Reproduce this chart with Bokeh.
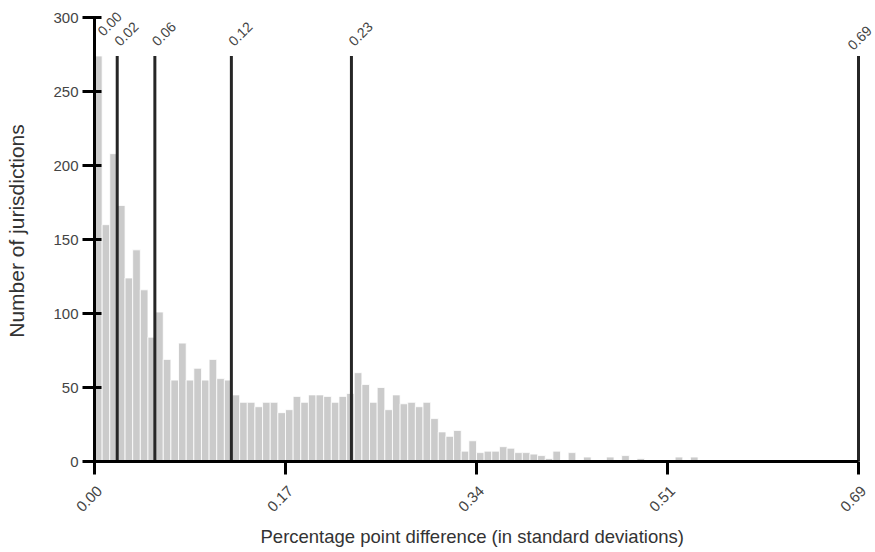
import math
from bokeh.plotting import figure
from bokeh.models import (ColumnDataSource, FixedTicker, LabelSet, LinearAxis, Range1d,
                          CustomLabelingPolicy, Title)
from bokeh.core.properties import value
from bokeh.embed import file_html
from bokeh.resources import INLINE

# ---- data ----
x_max = 0.686
counts = [274, 160, 208, 173, 124, 143, 116, 84, 101, 69,
          55, 80, 55, 63, 55, 69, 56, 55, 45, 40,
          40, 37, 40, 40, 33, 35, 44, 40, 45, 45,
          44, 40, 44, 46, 60, 52, 40, 50, 35, 45,
          39, 40, 37, 40, 29, 20, 17, 21, 7, 14,
          6, 7, 7, 10, 9, 6, 6, 5, 4, 2,
          7, 1, 6, 1, 3, 1, 0, 3, 1, 4,
          1, 2, 1, 0, 0, 0, 3, 1, 3, 1,
          1, 0, 0, 0, 0, 0, 0, 0, 0, 0,
          0, 0, 1, 0, 0, 0, 0, 0, 0, 0]
line_values = [0.0, 0.0204, 0.0542, 0.1229, 0.2307, 0.686]
line_labels = ["0.00", "0.02", "0.06", "0.12", "0.23", "0.69"]
x_tick_labels = ["0.00", "0.17", "0.34", "0.51", "0.69"]
y_ticks = [0, 50, 100, 150, 200, 250, 300]
y_max = 300
x_title = "Percentage point difference (in standard deviations)"
y_title = "Number of jurisdictions"

FONT = "Liberation Sans"
TXT = "#444444"

# ---- layout (pixels) ----
W, H = 875, 552
B_LEFT, B_BOTTOM = 94, 91
AX_W, AX_H = 764, 444          # length of the drawn axes
FRAME_W, FRAME_H = W - B_LEFT, H - B_BOTTOM
x_end = x_max * FRAME_W / AX_W
y_end = y_max * FRAME_H / AX_H
px_x = x_max / AX_W            # data units per pixel along x
LABEL_SHIFT = 5                # px the x tick labels sit right of their ticks

n = len(counts)
bw = x_max / n
bars = ColumnDataSource(dict(left=[i * bw for i in range(n)],
                             right=[(i + 1) * bw for i in range(n)],
                             top=counts, bottom=[0] * n))

p = figure(width=W, height=H, x_range=Range1d(0, x_end), y_range=Range1d(0, y_end),
           output_backend="svg", toolbar_location=None, x_axis_location=None,
           min_border_left=B_LEFT, min_border_right=0, min_border_top=0,
           min_border_bottom=B_BOTTOM)
p.outline_line_color = None
p.grid.visible = False

p.quad(left="left", right="right", top="top", bottom="bottom", source=bars,
       fill_color="#cbcbcb", line_color="white", line_width=0.8)

top = max(counts)
lines = ColumnDataSource(dict(x=line_values, y0=[0] * len(line_values),
                              y1=[top] * len(line_values), label=line_labels))
p.segment(x0="x", y0="y0", x1="x", y1="y1", source=lines,
          line_color="#262626", line_width=3)

# label offsets: a label crowded by its right neighbour is lifted,
# the label at the end of the axis is pulled back inside
xo, yo = [], []
for i, v in enumerate(line_values):
    crowded = i + 1 < len(line_values) and line_values[i + 1] - v < 0.025
    if crowded:
        xo.append(9); yo.append(19)
    elif v >= x_max:
        xo.append(-5); yo.append(5)
    else:
        xo.append(3); yo.append(9)
lines.data["xo"] = xo
lines.data["yo"] = yo
p.add_layout(LabelSet(x="x", y="y1", text="label", source=lines,
                      x_offset="xo", y_offset="yo", angle=math.pi / 4,
                      text_font=value(FONT), text_font_size="14px", text_color=TXT,
                      text_align="left", text_baseline="alphabetic"))

xt = [x_max * k / 4 for k in range(5)]

# x axis: line and ticks only
xa = LinearAxis(ticker=FixedTicker(ticks=xt), bounds=(0, x_max))
xa.axis_line_width = 3
xa.axis_line_color = "black"
xa.major_tick_line_width = 3
xa.major_tick_line_color = "black"
xa.major_tick_out = 13
xa.major_tick_in = 0
xa.minor_tick_line_color = None
xa.major_label_standoff = 0
xa.major_label_policy = CustomLabelingPolicy(
    code="for (const i of Array.from(indices)) indices.unset(i); return indices")
p.add_layout(xa, "below")

# x axis: rotated labels, set slightly to the right of their ticks
p.extra_x_ranges = {"lab": Range1d(-LABEL_SHIFT * px_x, x_end - LABEL_SHIFT * px_x)}
xl = LinearAxis(x_range_name="lab", ticker=FixedTicker(ticks=xt))
xl.major_label_overrides = {t: l for t, l in zip(xt, x_tick_labels)}
xl.major_label_orientation = math.pi / 4
xl.axis_line_color = None
xl.major_tick_line_color = None
xl.minor_tick_line_color = None
xl.major_tick_out = 0
xl.major_tick_in = 0
xl.major_label_standoff = 3
xl.major_label_text_font = FONT
xl.major_label_text_font_size = "15px"
xl.major_label_text_color = TXT
p.add_layout(xl, "below")

# x title, centred under the drawn axis rather than the whole frame
p.add_layout(Title(text=x_title, align="left", offset=166, vertical_align="bottom",
                   standoff=8, text_font=FONT, text_font_size="18.5px",
                   text_font_style="normal", text_color="#333333"), "below")

ya = p.yaxis[0]
ya.ticker = FixedTicker(ticks=y_ticks)
ya.bounds = (0, y_max)
ya.minor_tick_line_color = None
ya.axis_line_width = 3
ya.axis_line_color = "black"
ya.major_tick_line_width = 3
ya.major_tick_line_color = "black"
ya.major_tick_out = 12
ya.major_tick_in = 7
ya.major_label_standoff = 4
ya.major_label_text_font = FONT
ya.major_label_text_font_size = "15px"
ya.major_label_text_color = TXT
ya.axis_label = y_title
ya.axis_label_text_font = FONT
ya.axis_label_text_font_size = "21px"
ya.axis_label_text_font_style = "normal"
ya.axis_label_text_color = "#333333"
ya.axis_label_standoff = 22

open("out.html", "w").write(file_html(p, INLINE))
